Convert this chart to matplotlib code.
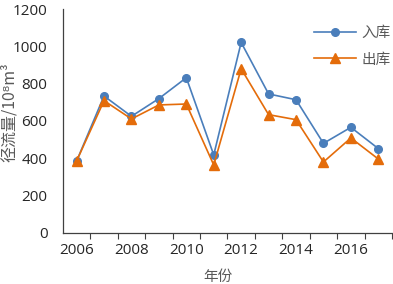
import matplotlib
matplotlib.use('Agg')
import matplotlib.pyplot as plt
import numpy as np

years = [2006, 2007, 2008, 2009, 2010, 2011, 2012, 2013, 2014, 2015, 2016, 2017]
inflow = [385, 734, 625, 720, 832, 418, 1021, 745, 714, 480, 566, 452]
outflow = [385, 709, 611, 686, 691, 364, 880, 634, 607, 380, 509, 396]
year_labels = ['2006', '2008', '2010', '2012', '2014', '2016']

cjk = ['Noto Sans CJK SC', 'DejaVu Sans']
gray = '#595959'

fig = plt.figure(figsize=(3.93, 2.84), dpi=100)
ax = fig.add_axes([0.160, 0.180, 0.8375, 0.788])

idx = np.arange(len(years))
ax.plot(idx, inflow, color='#4A7EBB', lw=1.2, marker='o', ms=5.5, label='入库')
ax.plot(idx, outflow, color='#E46C0A', lw=1.2, marker='^', ms=7.5, label='出库')

ax.set_xlim(-0.5, len(years) - 0.5)
ax.set_ylim(0, 1200)
ax.set_yticks(np.arange(0, 1201, 200))

# tick marks between categories, labels at every other category
ax.set_xticks(np.arange(0.5, len(years), 1))
ax.set_xticklabels([])
ax.set_xticks(idx[::2], minor=True)
ax.set_xticklabels(year_labels, minor=True)
ax.tick_params(axis='x', which='major', length=4, width=0.8, color='#404040')
ax.tick_params(axis='x', which='minor', length=0, pad=7)
ax.tick_params(axis='y', length=0, pad=11)
ax.tick_params(which='both', labelsize=11, labelcolor='#262626',
               labelfontfamily='Open Sans')

for s in ['top', 'right']:
    ax.spines[s].set_visible(False)
for s in ['left', 'bottom']:
    ax.spines[s].set_color('#404040')
    ax.spines[s].set_linewidth(0.9)

ax.set_xlabel('年份', family=cjk, fontsize=10.5, color=gray)
ax.xaxis.set_label_coords(0.47, -0.165)
ax.set_ylabel('径流量/10⁸m³', family=cjk, fontsize=11.5, color=gray)
ax.yaxis.set_label_coords(-0.136, 0.54)

lgd = ax.legend(loc='upper right', bbox_to_anchor=(1.015, 0.95), frameon=False,
                prop={'family': cjk, 'size': 10.5}, handlelength=2.9,
                labelspacing=0.85, handletextpad=0.4, borderaxespad=0)
for t in lgd.get_texts():
    t.set_color(gray)

fig.savefig('out.png', dpi=100)
